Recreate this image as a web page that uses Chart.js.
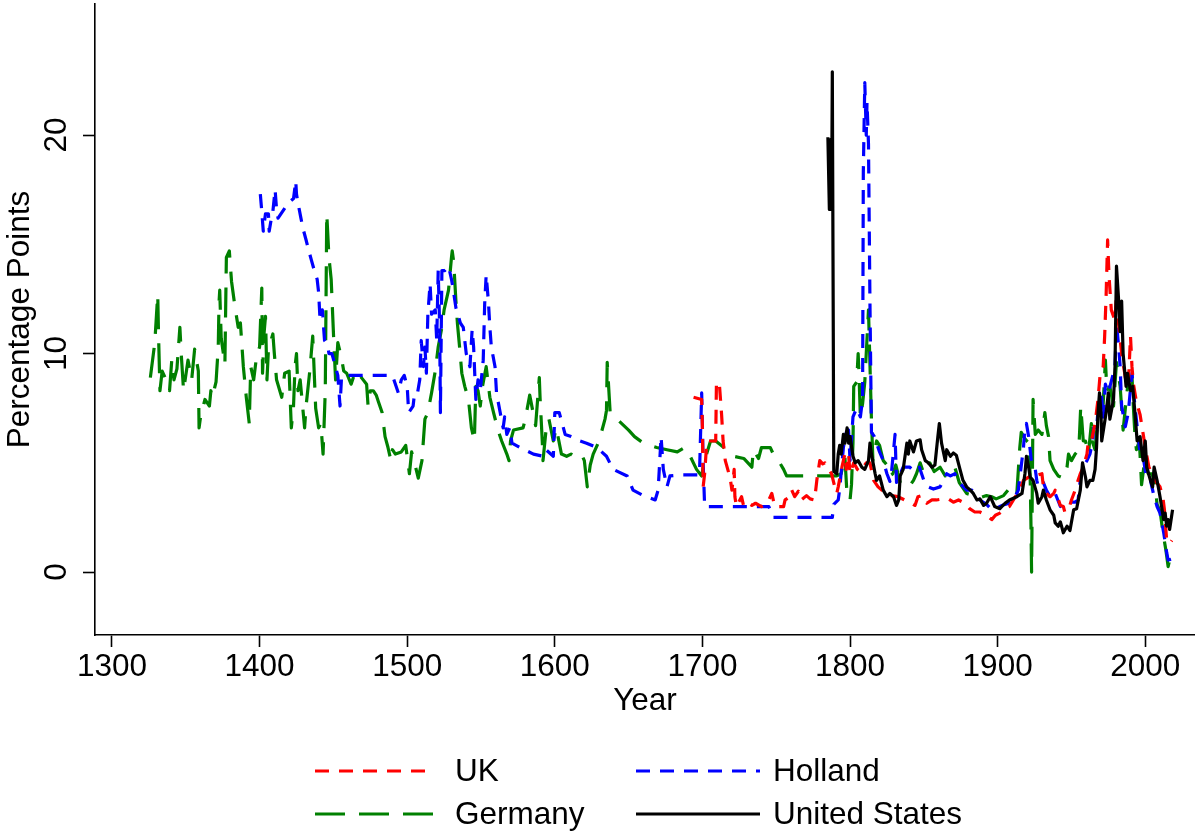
<!DOCTYPE html>
<html>
<head>
<meta charset="utf-8">
<script src="https://cdn.jsdelivr.net/npm/chart.js@4"></script>
<style>
  html, body { margin: 0; padding: 0; background: #ffffff; }
  #wrap { width: 1195px; height: 831px; }
</style>
</head>
<body>
<div id="wrap"><canvas id="c" width="1195" height="831"></canvas></div>
<script>
// ---- data (year, percentage points) ----
const seriesNames = ['UK', 'Holland', 'Germany', 'United States'];
const xTickValues = [1300, 1400, 1500, 1600, 1700, 1800, 1900, 2000];
const yTickValues = [0, 10, 20];
const xAxisTitle = 'Year';
const yAxisTitle = 'Percentage Points';

const ukPoints = [
  [1694,8.0],[1699.5,7.9],[1700,6.6],[1700.5,3.9],[1701.5,4.5],[1703,6.0],[1709,6.0],[1709.5,8.7],[1711.5,8.6],
  [1713,7.2],[1714,6.0],[1715.5,5.1],[1718,4.5],[1719,4.2],[1720,3.75],[1721.5,4.7],[1722,3.45],[1723,3.0],
  [1726.5,3.45],[1728,3.0],[1731,3.15],[1733.5,3.05],[1736,3.15],[1740,3.0],[1744,3.15],[1746,3.45],[1747,3.6],
  [1749,3.0],[1755,3.0],[1756,3.3],[1759.5,3.45],[1760.5,3.75],[1762.5,3.45],[1765,3.7],[1767,3.3],[1770.5,3.5],
  [1773,3.35],[1776,3.3],[1777.5,4.2],[1779.5,5.1],[1781.5,4.95],[1783,5.0],[1785.5,4.7],[1787.5,4.5],[1790,3.8],
  [1791,3.6],[1792,3.9],[1794.5,4.8],[1796.5,5.4],[1797.5,4.7],[1799,5.4],[1800,4.5],[1802.5,5.0],[1805,4.7],
  [1807,4.6],[1811,5.0],[1813.5,5.0],[1816,4.2],[1819,3.9],[1821.5,3.75],[1825,3.6],[1828,3.5],[1832.5,3.45],
  [1837,3.3],[1841.5,3.15],[1844,3.05],[1846,3.45],[1848.5,3.5],[1852,3.15],[1855.5,3.3],[1858.5,3.3],[1863,3.35],
  [1866.5,3.35],[1870,3.2],[1873.5,3.3],[1878,3.15],[1881,2.9],[1884.5,2.75],[1888,2.75],[1892.5,2.6],[1896,2.4],
  [1898.5,2.6],[1901.5,2.7],[1905,2.9],[1908,3.0],[1912,3.45],[1915,3.75],[1917.5,4.2],[1921,4.35],[1924,4.5],
  [1927.5,4.45],[1930,4.5],[1931,3.9],[1933,3.6],[1935.5,3.45],[1938,3.6],[1939,3.75],[1942.5,3.05],[1944.5,3.0],
  [1945.5,2.75],[1948,2.85],[1950,3.3],[1952.5,3.75],[1954.5,4.2],[1956,4.5],[1958,4.8],[1960.5,5.4],[1961.5,6.0],
  [1963.5,6.0],[1966,6.8],[1968,7.9],[1969.5,9.1],[1971.5,9.4],[1972.5,10.8],[1973.5,12.7],[1974.5,15.2],[1975.5,13.5],
  [1977,12.0],[1979.5,11.5],[1980.5,12.8],[1982,11.3],[1984,10.0],[1986.5,8.9],[1988.5,8.5],[1990,10.8],[1991,9.4],
  [1992,8.6],[1994,7.8],[1996.5,7.2],[1998.5,6.35],[2000,5.7],[2002.5,4.8],[2004.5,4.5],[2006.5,4.2],[2010,3.9],
  [2012,3.4],[2013,2.85],[2014.5,1.45],[2016.5,1.3],[2018,1.45]
];

const hollandPoints = [
  [1400.5,17.3],[1401.5,16.5],[1402.5,15.6],[1404,16.4],[1406,16.4],[1406.5,15.6],[1408,16.2],[1409,16.5],[1410.5,17.5],
  [1411.5,16.6],[1412.5,16.2],[1419.5,16.9],[1423,17.1],[1424.5,17.9],[1425,17.3],[1426,16.9],[1428,16.2],[1429.5,15.7],
  [1431.5,15.2],[1433,14.8],[1435,14.3],[1437.5,13.7],[1439,13.4],[1440,12.8],[1441,11.5],[1442.5,12.0],[1444,10.6],
  [1446,10.4],[1447,10.0],[1449,10.0],[1451,9.5],[1453,9.0],[1454.5,7.6],[1455.5,8.9],[1457,9.0],[1490,9.0],
  [1494,8.2],[1496,8.8],[1498,9.0],[1500,8.5],[1501,7.3],[1504,7.6],[1505,8.2],[1507,8.2],[1508.5,8.8],[1509.5,10.6],
  [1511,9.4],[1512,10.3],[1513,9.1],[1514,11.8],[1515.5,13.2],[1516.5,11.8],[1519,12.0],[1520,10.6],[1521,13.8],
  [1522,11.2],[1522.5,7.3],[1523.5,13.8],[1525.5,13.8],[1528,14.0],[1530,13.4],[1531,13.0],[1533,12.1],[1536,11.4],
  [1538,11.2],[1540,10.0],[1542.5,9.4],[1544,11.1],[1545,10.3],[1546.5,7.9],[1548,8.8],[1549.5,8.3],[1551.5,9.7],
  [1552.5,12.3],[1553.5,13.6],[1555,12.4],[1556,11.2],[1557,10.3],[1559.5,9.4],[1560.5,8.2],[1563,7.3],[1565,6.6],
  [1566,7.1],[1567.5,6.3],[1569.5,6.6],[1571,5.9],[1576.5,5.7],[1585.5,5.4],[1592,5.3],[1594,5.6],[1599,5.3],
  [1600,7.3],[1603,7.3],[1607,6.3],[1611,6.2],[1617,6.0],[1621.5,5.9],[1628.5,5.7],[1635,5.3],[1639.5,4.7],
  [1649,4.4],[1653,3.75],[1660,3.5],[1668,3.3],[1670,3.75],[1672,6.2],[1673.5,4.7],[1676,3.9],[1678,4.4],
  [1686,4.45],[1698,4.45],[1699.5,8.2],[1700.5,5.0],[1701.5,3.0],[1709,3.0],[1745,3.0],[1748,2.5],[1788,2.5],
  [1789,3.1],[1792,3.3],[1793,3.8],[1795.5,5.7],[1797.5,6.4],[1799,6.5],[1800,5.1],[1802,7.1],[1804.5,7.5],
  [1807,7.1],[1808.5,7.9],[1809,18.3],[1810,22.4],[1811,20.0],[1811.5,21.5],[1812.5,19.6],[1813.5,12.3],[1814.5,6.4],
  [1816.5,6.2],[1818,5.9],[1820,5.5],[1822.5,5.1],[1825,4.5],[1827,4.15],[1828,4.5],[1830.5,6.3],[1831.5,4.1],
  [1834,4.5],[1836,4.8],[1840.5,4.8],[1843.5,4.6],[1847,4.8],[1851,4.0],[1853,3.9],[1856.5,3.8],[1861,3.9],
  [1865.5,4.5],[1868,4.4],[1871,4.5],[1874,4.1],[1879,3.75],[1882.5,3.75],[1885,3.5],[1888,3.3],[1892.5,3.1],
  [1896,2.85],[1898.5,2.9],[1901.5,3.0],[1905,3.1],[1910,3.2],[1914,3.75],[1917.5,5.7],[1918.5,6.65],[1919.5,6.8],
  [1921,6.2],[1923,5.0],[1925.5,4.7],[1926.5,4.2],[1927.5,3.9],[1931,4.1],[1933,3.75],[1935.5,3.45],[1938,3.45],
  [1939,3.6],[1942.5,3.0],[1945.5,3.05],[1949,3.2],[1952.5,3.2],[1954.5,3.3],[1956,4.2],[1957.5,4.8],[1960.5,5.1],
  [1962.5,5.4],[1964.5,6.0],[1965,6.6],[1967,6.5],[1968.5,7.9],[1970.5,8.0],[1971.5,7.0],[1973,8.6],[1975,8.2],
  [1979.5,9.4],[1980.5,11.4],[1982,10.3],[1983,9.4],[1984,7.6],[1986.5,6.65],[1988.5,7.3],[1991,9.1],[1993,7.6],
  [1995,6.35],[1996.5,5.4],[1999,5.1],[2001,4.2],[2003.5,4.2],[2005.5,3.6],[2008,3.0],[2010,2.7],[2012.5,1.8],
  [2014.5,0.9],[2015.5,0.55],[2018,0.6]
];

const germanyPoints = [
  [1326,8.9],[1329,10.5],[1331,12.7],[1331.5,11.0],[1332.5,8.3],[1334,9.2],[1336,8.9],[1339,8.3],[1340.5,9.7],
  [1342,8.8],[1344,9.3],[1346,11.2],[1347,9.9],[1348.5,8.3],[1351.5,9.7],[1354,8.8],[1356,10.2],[1358.5,9.2],
  [1359,6.6],[1360,7.1],[1363,7.9],[1366,7.6],[1367,8.3],[1368,8.0],[1370.5,8.7],[1372,10.3],[1372.5,12.3],
  [1373,12.9],[1374,10.7],[1376.5,9.5],[1377.5,14.4],[1379.5,14.7],[1381,13.3],[1383,12.3],[1385.5,11.2],[1387,11.4],
  [1389,9.4],[1391,8.0],[1393,6.8],[1394,9.4],[1396,8.8],[1398,9.9],[1400,10.3],[1401.5,13.0],[1402,9.1],
  [1403,10.9],[1404,11.7],[1405,8.8],[1406,10.2],[1409,10.9],[1410,10.0],[1411.5,8.8],[1415,8.0],[1417,9.1],
  [1420,9.2],[1421.5,6.6],[1423,7.6],[1424,9.4],[1425,10.0],[1426,8.3],[1427.5,8.8],[1430.5,6.6],[1431.5,7.6],
  [1434,9.2],[1436,10.8],[1438,7.5],[1440,6.6],[1441.5,6.8],[1443,5.4],[1444.5,8.3],[1445.5,16.4],[1447,14.4],
  [1448.5,13.4],[1449.5,11.8],[1450.5,10.2],[1451.5,8.8],[1453,10.5],[1455.5,9.8],[1457,9.2],[1459,9.1],[1462,8.6],
  [1465,9.2],[1469,8.9],[1472.5,8.6],[1473.5,7.6],[1475,8.3],[1477,8.3],[1479,8.1],[1480.5,7.8],[1483,7.3],
  [1485,6.2],[1487,5.7],[1489,5.1],[1490,5.6],[1492,5.4],[1496,5.5],[1499,5.8],[1501.5,4.5],[1503,5.5],
  [1505,5.0],[1507.5,4.3],[1510,5.1],[1512,7.0],[1514,7.3],[1516.5,8.2],[1519,9.2],[1521,10.3],[1523.5,11.2],
  [1525,12.0],[1528,12.9],[1530,14.4],[1530.5,14.7],[1531.5,14.2],[1533,12.4],[1534,11.4],[1535.5,10.3],[1537,9.1],
  [1539,8.5],[1541.5,7.9],[1543.5,6.6],[1545.5,6.0],[1546.5,8.5],[1548,8.3],[1549.5,7.6],[1551,8.5],[1553.5,9.4],
  [1556,8.0],[1558.5,7.3],[1561.5,6.5],[1564,6.0],[1567.5,5.4],[1569,5.1],[1570,6.0],[1572,6.5],[1578.5,6.6],
  [1580,7.0],[1583,8.1],[1585,7.4],[1587,6.7],[1589.5,8.9],[1590,8.0],[1591.5,6.0],[1592,5.1],[1594.5,6.8],
  [1596,7.0],[1599,6.0],[1601,6.6],[1604.5,5.4],[1608,5.3],[1611,5.4],[1613,5.3],[1618,5.4],[1620,5.1],
  [1622,3.9],[1624,4.9],[1626,5.4],[1630,6.0],[1634,7.0],[1635,7.4],[1635.5,9.6],[1637.5,7.3],[1650,6.5],
  [1654,6.2],[1660,5.9],[1669,5.7],[1676,5.6],[1683,5.5],[1688,5.7],[1691,5.4],[1696,4.7],[1699.5,4.4],
  [1701,5.0],[1705.5,6.0],[1709,6.0],[1714.5,5.7],[1721,5.3],[1728,5.2],[1733.5,4.8],[1734.5,5.6],[1738,5.2],
  [1740,5.7],[1746,5.7],[1748,5.4],[1751.5,5.1],[1755,4.7],[1757,4.4],[1765,4.4],[1776,4.4],[1784,4.4],
  [1791,4.4],[1794,4.5],[1796.5,5.3],[1798,3.5],[1800,3.3],[1801,4.0],[1802,5.9],[1802.5,8.5],[1804.5,8.7],
  [1805.5,10.0],[1806,9.2],[1807,7.1],[1808.5,7.7],[1810,8.7],[1812.5,12.0],[1813.5,9.5],[1814.5,7.0],[1815.5,5.1],
  [1818,6.0],[1820,5.8],[1822.5,5.1],[1825,4.9],[1827,4.4],[1829,4.5],[1831,4.9],[1834,4.1],[1837,3.9],
  [1840,3.9],[1843,4.2],[1845,4.5],[1847.5,5.0],[1850,4.5],[1854,5.0],[1857,4.6],[1861,4.8],[1864.5,4.4],
  [1868,4.6],[1871,4.8],[1874,4.1],[1879,3.6],[1883.5,3.5],[1888,3.4],[1892.5,3.5],[1896,3.45],[1899,3.35],
  [1904,3.5],[1907,3.75],[1910,3.4],[1913,3.6],[1915,5.7],[1916,6.4],[1918.5,6.1],[1921,5.9],[1922,4.5],
  [1922.5,2.5],[1923,0.0],[1924,7.9],[1925.5,6.3],[1927.5,6.5],[1930,6.3],[1932,7.3],[1933,6.7],[1934.5,6.2],
  [1935.5,5.1],[1938,4.7],[1941,4.4],[1944.5,4.3],[1947,4.8],[1948,5.4],[1950,5.1],[1952.5,5.4],[1955,5.6],
  [1956.3,7.6],[1958,6.0],[1959.5,6.0],[1961.5,5.4],[1963.5,6.8],[1964,6.0],[1966,5.6],[1967,6.4],[1969.5,7.6],
  [1971.5,7.7],[1973,9.7],[1974,8.3],[1976,8.5],[1978.5,7.6],[1980.5,9.6],[1983,8.5],[1985,6.5],[1988.5,8.8],
  [1991,9.0],[1992,7.5],[1993,6.3],[1994,5.6],[1996,6.0],[1997.5,4.0],[2000,5.3],[2002,4.5],[2004.5,4.5],
  [2006.5,4.1],[2008,3.1],[2010,2.8],[2012,1.8],[2014,1.0],[2015.5,0.25],[2016.5,0.55],[2018,0.3]
];

const usPoints = [
  [1785,19.9],[1786,16.6],[1787,19.8],[1787.5,16.6],[1788,22.9],[1789,4.6],[1791,4.5],[1792,5.4],[1793,5.8],
  [1794,5.4],[1795.5,6.3],[1796.5,5.9],[1798,6.6],[1799,5.9],[1800,6.2],[1802,5.3],[1803.5,5.0],[1805.5,5.1],
  [1808,4.8],[1810,4.7],[1812.5,5.1],[1813.5,5.9],[1814.5,5.4],[1817,4.5],[1818,4.2],[1820,4.4],[1822.5,3.75],
  [1825,3.45],[1827,3.6],[1829.5,3.45],[1831.5,3.05],[1833,3.3],[1834,4.4],[1836,4.7],[1838.5,5.9],[1839.5,5.4],
  [1840.5,6.0],[1843,5.5],[1845,6.0],[1847.5,6.05],[1848.5,5.6],[1851,5.1],[1853,5.0],[1855.5,4.8],[1857.5,4.9],
  [1859.5,6.2],[1860.5,6.8],[1862,5.9],[1864.5,5.1],[1865.5,5.6],[1868,5.3],[1870,5.45],[1872,5.35],[1874.5,4.7],
  [1876.5,4.2],[1879,3.9],[1881.5,3.75],[1883.5,3.6],[1886,3.3],[1888,3.35],[1890.5,3.05],[1892.5,3.15],[1895,3.45],
  [1898,3.0],[1901.5,2.9],[1905,3.15],[1908,3.3],[1913,3.45],[1916.5,3.6],[1918.5,4.5],[1919.5,5.3],[1921,4.8],
  [1922,4.35],[1924,4.2],[1926.5,3.6],[1927.5,3.15],[1930,3.45],[1931,3.75],[1933,3.3],[1935.5,2.85],[1938,2.6],
  [1939,2.25],[1941,2.1],[1942.5,2.3],[1944.5,1.8],[1947,2.1],[1949,1.9],[1951.5,2.85],[1953.5,2.9],[1956,3.75],
  [1957.5,5.0],[1959.5,4.35],[1960.5,3.9],[1962.5,4.2],[1964.5,4.2],[1966,4.7],[1967,5.7],[1968,7.3],[1969,8.2],
  [1970,7.3],[1970.5,6.0],[1972,6.65],[1973.5,7.3],[1975,8.2],[1976,7.0],[1978.5,7.9],[1979.5,9.4],[1980.5,14.0],
  [1982,12.4],[1983,11.0],[1984,12.4],[1985,10.0],[1987,8.5],[1988,9.1],[1990,8.3],[1991.5,8.5],[1993,7.3],
  [1994.5,6.0],[1996.5,6.2],[1998.5,5.1],[2000,6.0],[2001,4.8],[2003.5,4.2],[2005,3.9],[2006,4.8],[2008,4.2],
  [2010,3.45],[2012.5,2.4],[2013.5,2.7],[2014.5,2.1],[2015.5,2.4],[2016.5,1.95],[2018.5,2.85]
];

// ---- styling ----
const FONT = "'Liberation Sans', Arial, Helvetica, sans-serif";
const FS = 31.5;
const LW = 3.2;

function toXY(points) { return points.map(p => ({ x: p[0], y: p[1] })); }

const datasets = [
  { label: seriesNames[0], data: toXY(ukPoints), borderColor: '#ff0000', borderDash: [14, 10], order: 1 },
  { label: seriesNames[1], data: toXY(hollandPoints), borderColor: '#0000ff', borderDash: [14, 10], order: 2 },
  { label: seriesNames[2], data: toXY(germanyPoints), borderColor: '#008000', borderDash: [30, 14], order: 3 },
  { label: seriesNames[3], data: toXY(usPoints), borderColor: '#000000', borderDash: [], order: 0 }
].map(d => Object.assign({
  borderWidth: LW, pointRadius: 0, pointHoverRadius: 0, tension: 0, fill: false,
  borderCapStyle: 'butt', borderJoinStyle: 'round', spanGaps: true
}, d));

// y tick labels, rotated like the reference
const yLabelPlugin = {
  id: 'yLabels',
  afterDraw(chart) {
    const y = chart.scales.y;
    const ctx = chart.ctx;
    ctx.save();
    ctx.fillStyle = '#000';
    ctx.font = FS + 'px ' + FONT;
    ctx.textAlign = 'center';
    ctx.textBaseline = 'alphabetic';
    y.ticks.forEach(t => {
      const py = y.getPixelForValue(t.value);
      ctx.save();
      ctx.translate(66, py);
      ctx.rotate(-Math.PI / 2);
      ctx.fillText(String(t.value), 0, 0);
      ctx.restore();
    });
    ctx.restore();
  }
};

// legend in two columns, like the reference
const legendPlugin = {
  id: 'stataLegend',
  afterDraw(chart) {
    const ctx = chart.ctx;
    const cols = [{ x0: 315, x1: 435, tx: 455 }, { x0: 636, x1: 760, tx: 773 }];
    const rows = [771, 814];
    ctx.save();
    chart.data.datasets.forEach((ds, i) => {
      const col = cols[i % 2];
      const ry = rows[Math.floor(i / 2)];
      ctx.strokeStyle = ds.borderColor;
      ctx.lineWidth = LW;
      ctx.setLineDash(ds.borderDash || []);
      ctx.lineCap = 'butt';
      ctx.beginPath();
      ctx.moveTo(col.x0, ry);
      ctx.lineTo(col.x1, ry);
      ctx.stroke();
      ctx.setLineDash([]);
      ctx.fillStyle = '#000';
      ctx.font = FS + 'px ' + FONT;
      ctx.textAlign = 'left';
      ctx.textBaseline = 'middle';
      ctx.fillText(ds.label, col.tx, ry + 1);
    });
    ctx.restore();
  }
};

new Chart(document.getElementById('c'), {
  type: 'line',
  data: { datasets },
  plugins: [yLabelPlugin, legendPlugin],
  options: {
    responsive: false,
    animation: false,
    devicePixelRatio: 1,
    events: [],
    layout: { padding: { top: 4, left: 0, right: 0, bottom: 111 } },
    plugins: { legend: { display: false }, tooltip: { enabled: false } },
    scales: {
      x: {
        type: 'linear',
        position: 'bottom',
        min: 1288.5,
        max: 2033.7,
        afterBuildTicks: s => { s.ticks = xTickValues.map(v => ({ value: v })); },
        afterFit: s => { s.height = 85; },
        grid: { display: true, drawOnChartArea: false, drawTicks: true, tickLength: 12, tickWidth: 1.6, tickColor: '#000' },
        border: { display: true, color: '#000', width: 1.6 },
        ticks: { color: '#000', font: { family: FONT, size: FS }, padding: 1, maxRotation: 0, minRotation: 0, autoSkip: false,
                 callback: v => String(v) },
        title: { display: true, text: xAxisTitle, color: '#000', font: { family: FONT, size: FS }, padding: 0 }
      },
      y: {
        type: 'linear',
        position: 'left',
        min: -2.88,
        max: 26.0,
        afterBuildTicks: s => { s.ticks = yTickValues.map(v => ({ value: v })); },
        afterFit: s => { s.width = 95; },
        grid: { display: true, drawOnChartArea: false, drawTicks: true, tickLength: 12, tickWidth: 1.6, tickColor: '#000' },
        border: { display: true, color: '#000', width: 1.6 },
        ticks: { display: false },
        title: { display: true, text: yAxisTitle, color: '#000', font: { family: FONT, size: FS }, padding: { top: 1, bottom: 0 } }
      }
    }
  }
});
</script>
</body>
</html>
